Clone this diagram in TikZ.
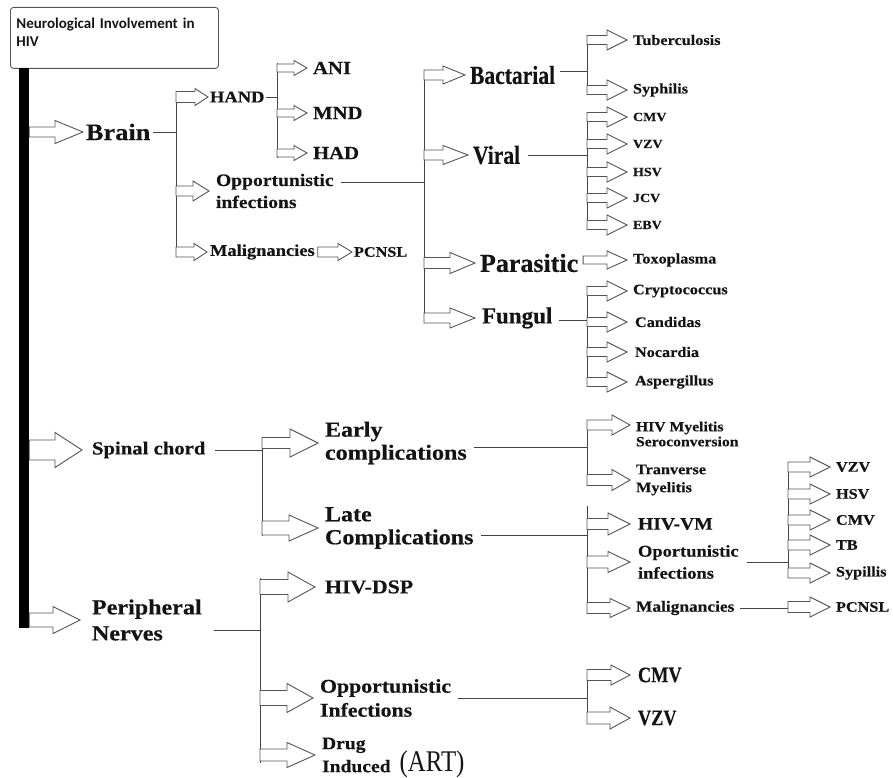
\documentclass[tikz,border=0pt]{standalone}
\usepackage{fontspec}
\setmainfont{Liberation Serif}[FakeStretch=1.12, BoldFeatures={FakeBold=0.4}]
\newfontfamily\plainserif{Liberation Serif}[BoldFeatures={FakeBold=0.4}]
\newfontfamily\condserif{Liberation Serif}[FakeStretch=0.83, BoldFeatures={FakeBold=0.4}]
\newfontfamily\titlefont{Carlito}
\usetikzlibrary{calc}
\definecolor{txt}{HTML}{141414}
\definecolor{arrc}{HTML}{555555}
\definecolor{linec}{HTML}{444444}
\newcommand\fsz[2]{\fontsize{#1pt}{#2pt}\selectfont}
% block arrow: #1 source (x used), #2 tip point, #3 shaft half height, #4 head half height, #5 head length
\newcommand\blk[5]{%
  \draw[blkline] let \p1=#1, \p2=#2 in
    (\x1,\y2+#3) -- (\x2-#5,\y2+#3) -- (\x2-#5,\y2+#4) -- (\x2,\y2)
    -- (\x2-#5,\y2-#4) -- (\x2-#5,\y2-#3) -- (\x1,\y2-#3) -- cycle;}
\tikzset{
  lbl/.style={anchor=west, inner sep=0pt, outer sep=4pt, text=txt, align=left},
  conn/.style={draw=linec, line width=0.9pt},
  blkline/.style={draw=arrc, line width=0.9pt, fill=white, line join=miter},
  bus/.style={draw=linec, line width=0.9pt},
}
\begin{document}
\begin{tikzpicture}[x=1pt, y=-1pt]
\useasboundingbox (0,0) rectangle (893,778);

% ---------- title and bar ----------
\node[draw=arrc, rounded corners=3pt, line width=0.9pt, anchor=north west,
      minimum width=208pt, minimum height=61pt, text width=196pt, inner xsep=6pt,
      align=left, font=\titlefont\bfseries\fsz{15}{18}, text=txt] (title) at (10,7)
      {Neurological Involvement in\\HIV\rule[-12pt]{0pt}{12pt}};
\node[fill=black, anchor=north, minimum width=10pt, minimum height=560pt, inner sep=0pt] (bar) at (24,68) {};

% ---------- nodes ----------
\node[lbl, outer sep=3pt, font=\bfseries\fsz{23.5}{27}] (brain) at (83,132) {Brain};
\node[lbl, outer sep=2pt, font=\bfseries\fsz{16.5}{19}] (hand) at (208,97) {HAND};
\node[lbl, outer sep=7pt, font=\bfseries\fsz{17.5}{22}] (opp) at (209,191) {Opportunistic\\infections};
\node[lbl, outer sep=3pt, font=\bfseries\fsz{16.5}{19}] (mal) at (207,252) {Malignancies};
\node[lbl, outer sep=2pt, font=\bfseries\fsz{14.5}{17}] (pcnsl) at (352,252) {PCNSL};
\node[lbl, outer sep=6pt, font=\bfseries\fsz{18.5}{21}] (ani) at (307,68) {ANI};
\node[lbl, outer sep=6pt, font=\bfseries\fsz{18.5}{21}] (mnd) at (307,113) {MND};
\node[lbl, outer sep=6pt, font=\bfseries\fsz{18.5}{21}] (had) at (307,153) {HAD};
\node[lbl, outer sep=5pt, font=\condserif\bfseries\fsz{26}{30}] (bact) at (465,75) {Bactarial};
\node[lbl, outer sep=5pt, font=\condserif\bfseries\fsz{26}{30}] (viral) at (468,155) {Viral};
\node[lbl, outer sep=5pt, font=\plainserif\bfseries\fsz{26}{30}] (para) at (475,263) {Parasitic};
\node[lbl, outer sep=7pt, font=\plainserif\bfseries\fsz{23}{27}] (fung) at (475,318) {Fungul};

\node[lbl, outer sep=6pt, font=\bfseries\fsz{14.5}{17}] (tb) at (627,40) {Tuberculosis};
\node[lbl, outer sep=6pt, font=\bfseries\fsz{14.5}{17}] (syph) at (627,90) {Syphilis};
\node[lbl, outer sep=6pt, font=\bfseries\fsz{12.5}{15}] (cmva) at (627,117) {CMV};
\node[lbl, outer sep=6pt, font=\bfseries\fsz{12.5}{15}] (vzva) at (627,144) {VZV};
\node[lbl, outer sep=6pt, font=\bfseries\fsz{12.5}{15}] (hsva) at (627,172) {HSV};
\node[lbl, outer sep=6pt, font=\bfseries\fsz{12.5}{15}] (jcv) at (627,198) {JCV};
\node[lbl, outer sep=6pt, font=\bfseries\fsz{12.5}{15}] (ebv) at (627,225) {EBV};
\node[lbl, outer sep=6pt, font=\bfseries\fsz{14.5}{17}] (toxo) at (627,260) {Toxoplasma};
\node[lbl, outer sep=6pt, font=\bfseries\fsz{14.5}{17}] (crypto) at (627,291) {Cryptococcus};
\node[lbl, outer sep=8pt, font=\bfseries\fsz{14.5}{17}] (cand) at (627,322) {Candidas};
\node[lbl, outer sep=8pt, font=\bfseries\fsz{14.5}{17}] (noc) at (627,352) {Nocardia};
\node[lbl, outer sep=8pt, font=\bfseries\fsz{14.5}{17}] (asp) at (627,382) {Aspergillus};

\node[lbl, outer sep=10pt, font=\bfseries\fsz{18.5}{21}] (spinal) at (82,450) {Spinal chord};
\node[lbl, outer sep=7pt, font=\bfseries\fsz{21.5}{23}] (early) at (318,443) {Early\\complications};
\node[lbl, outer sep=7pt, font=\bfseries\fsz{21.5}{23}] (late) at (318,528) {Late\\Complications};
\node[lbl, outer sep=6pt, font=\bfseries\fsz{14}{15}] (hm) at (630,434) {HIV Myelitis\\Seroconversion};
\node[lbl, outer sep=6pt, font=\bfseries\fsz{14.5}{18}] (tm) at (630,480) {Tranverse\\Myelitis};
\node[lbl, outer sep=8pt, font=\bfseries\fsz{17.5}{20}] (hvm) at (630,524) {HIV-VM};
\node[lbl, outer sep=8pt, font=\bfseries\fsz{16.5}{22}] (oport) at (630,562) {Oportunistic\\infections};
\node[lbl, outer sep=6pt, font=\bfseries\fsz{15.5}{18}] (mal2) at (630,608) {Malignancies};
\node[lbl, outer sep=6pt, font=\bfseries\fsz{14.5}{17}] (pcnsl2) at (830,607) {PCNSL};
\node[lbl, outer sep=6pt, font=\bfseries\fsz{14.5}{17}] (vzvb) at (830,467) {VZV};
\node[lbl, outer sep=6pt, font=\bfseries\fsz{14.5}{17}] (hsvb) at (830,494) {HSV};
\node[lbl, outer sep=6pt, font=\bfseries\fsz{14.5}{17}] (cmvb) at (830,520) {CMV};
\node[lbl, outer sep=6pt, font=\bfseries\fsz{14.5}{17}] (tbb) at (830,545) {TB};
\node[lbl, outer sep=6pt, font=\bfseries\fsz{14.5}{17}] (sypb) at (830,573) {Sypillis};

\node[lbl, outer sep=12pt, font=\bfseries\fsz{21.5}{26}] (periph) at (80,620) {Peripheral\\Nerves};
\node[lbl, outer sep=10pt, font=\bfseries\fsz{19.5}{22}] (dsp) at (315,587) {HIV-DSP};
\node[lbl, outer sep=7pt, font=\bfseries\fsz{19.5}{24}] (oppi) at (313,698) {Opportunistic\\Infections};
\node[lbl, outer sep=7pt, font=\bfseries\fsz{17.5}{23}] (drug) at (315,755) {Drug\\Induced};
\node[lbl, outer sep=2pt, font=\condserif\fsz{30}{34}] (art) at ($(drug.east)+(0,9)$) {(ART)};
\node[lbl, outer sep=8pt, font=\condserif\bfseries\fsz{22}{26}] (cmvc) at (630,675) {CMV};
\node[lbl, outer sep=8pt, font=\condserif\bfseries\fsz{22}{26}] (vzvc) at (630,718) {VZV};

% ---------- bus coordinates and bus lines ----------
\coordinate (bB1) at (176,92);  \coordinate (bB2) at (176,256);
\coordinate (bH1) at (277,63);  \coordinate (bH2) at (277,158);
\coordinate (bO1) at (424,70);  \coordinate (bO2) at (424,323);
\coordinate (bBa1) at (587,36); \coordinate (bBa2) at (587,95);
\coordinate (bV1) at (587,113); \coordinate (bV2) at (587,230);
\coordinate (bF1) at (587,287); \coordinate (bF2) at (587,387);
\coordinate (bS1) at (262,437); \coordinate (bS2) at (262,536);
\coordinate (bE1) at (587,421); \coordinate (bE2) at (587,486);
\coordinate (bL1) at (587,506); \coordinate (bL2) at (587,614);
\coordinate (bOp1) at (788,462); \coordinate (bOp2) at (788,578);
\coordinate (bP1) at (260,578); \coordinate (bP2) at (260,763);
\coordinate (bOi1) at (587,670); \coordinate (bOi2) at (587,724);
\foreach \a/\b in {bB1/bB2,bH1/bH2,bO1/bO2,bBa1/bBa2,bV1/bV2,bF1/bF2,bS1/bS2,bE1/bE2,bL1/bL2,bOp1/bOp2,bP1/bP2,bOi1/bOi2}{
  \draw[bus] (\a) -- (\b);}

% ---------- connectors from nodes to buses ----------
\draw[conn] (brain.east) -- (brain.east -| bB1);
\draw[conn] (hand.east) -- (hand.east -| bH1);
\path ($(opp.east)+(0,-9)$) coordinate (oppL);
\draw[conn] (oppL) -- (oppL -| bO1);
\path ($(bact.east)+(0,-4)$) coordinate (bactL);
\draw[conn] (bactL) -- (bactL -| bBa1);
\draw[conn] ([xshift=3pt]viral.east) -- (viral.east -| bV1);
\path ($(fung.east)+(0,2)$) coordinate (fungL);
\draw[conn] (fungL) -- (fungL -| bF1);
\draw[conn] (spinal.east) -- (spinal.east -| bS1);
\path ($(early.east)+(0,4)$) coordinate (earlyL);
\draw[conn] (earlyL) -- (earlyL -| bE1);
\path ($(late.east)+(0,7)$) coordinate (lateL);
\draw[conn] (lateL) -- (lateL -| bL1);
\draw[conn] (oport.east) -- (oport.east -| bOp1);
\draw[conn] (mal2.east) -- (mal2.east -| bOp1);
\path ($(periph.east)+(0,10)$) coordinate (periphL);
\draw[conn] (periphL) -- (periphL -| bP1);
\draw[conn] (oppi.east) -- (oppi.east -| bOi1);

% ---------- block arrows ----------
\blk{(bar.east)}{(brain.west)}{5pt}{11.5pt}{28pt}
\blk{(bar.east)}{(spinal.west)}{10pt}{17.5pt}{27pt}
\blk{(bar.east)}{(periph.west)}{7pt}{13.5pt}{27pt}

\blk{(bB1)}{(hand.west)}{5.5pt}{8.5pt}{13pt}
\blk{(bB1)}{(opp.west)}{5pt}{10pt}{16pt}
\blk{(bB1)}{(mal.west)}{5pt}{8.5pt}{13pt}
\blk{(mal.east)}{(pcnsl.west)}{5pt}{8.5pt}{14pt}

\blk{(bH1)}{(ani.west)}{4pt}{7.5pt}{13pt}
\blk{(bH1)}{(mnd.west)}{4pt}{7.5pt}{13pt}
\blk{(bH1)}{(had.west)}{4pt}{7.5pt}{13pt}

\blk{(bO1)}{(bact.west)}{5pt}{9pt}{22pt}
\blk{(bO1)}{(viral.west)}{5pt}{9.5pt}{25pt}
\blk{(bO1)}{(para.west)}{5.5pt}{10.5pt}{25pt}
\blk{(bO1)}{(fung.west)}{5pt}{10pt}{25pt}

\foreach \nm in {tb,syph}{
  \blk{(bBa1)}{(\nm.west)}{4.5pt}{10pt}{20pt}}
\foreach \nm in {cmva,vzva,hsva,jcv,ebv}{
  \blk{(bV1)}{(\nm.west)}{4.5pt}{10pt}{20pt}}
\blk{(para.east)}{(toxo.west)}{4pt}{9pt}{20pt}
\foreach \nm in {crypto,cand,noc,asp}{
  \blk{(bF1)}{(\nm.west)}{4.5pt}{10pt}{20pt}}

\blk{(bS1)}{(early.west)}{5.5pt}{14pt}{28pt}
\blk{(bS1)}{(late.west)}{7pt}{13pt}{29pt}
\blk{(bE1)}{($(hm.west)+(0,-9)$)}{5pt}{10pt}{18pt}
\blk{(bE1)}{(tm.west)}{5.5pt}{10.5pt}{18pt}
\blk{(bL1)}{(hvm.west)}{5.5pt}{11pt}{22pt}
\blk{(bL1)}{(oport.west)}{6pt}{10.5pt}{22pt}
\blk{(bL1)}{(mal2.west)}{5.5pt}{9.5pt}{20pt}
\blk{(bOp1)}{(pcnsl2.west)}{5.5pt}{10pt}{20pt}
\foreach \nm in {vzvb,hsvb,cmvb,tbb,sypb}{
  \blk{(bOp1)}{(\nm.west)}{5pt}{10pt}{20pt}}

\blk{(bP1)}{(dsp.west)}{7.5pt}{15pt}{27pt}
\blk{(bP1)}{(oppi.west)}{7.5pt}{14.5pt}{26pt}
\blk{(bP1)}{(drug.west)}{6pt}{12.5pt}{28pt}
\blk{(bOi1)}{(cmvc.west)}{5.5pt}{10pt}{19pt}
\blk{(bOi1)}{(vzvc.west)}{6pt}{11pt}{20pt}
\end{tikzpicture}
\end{document}
